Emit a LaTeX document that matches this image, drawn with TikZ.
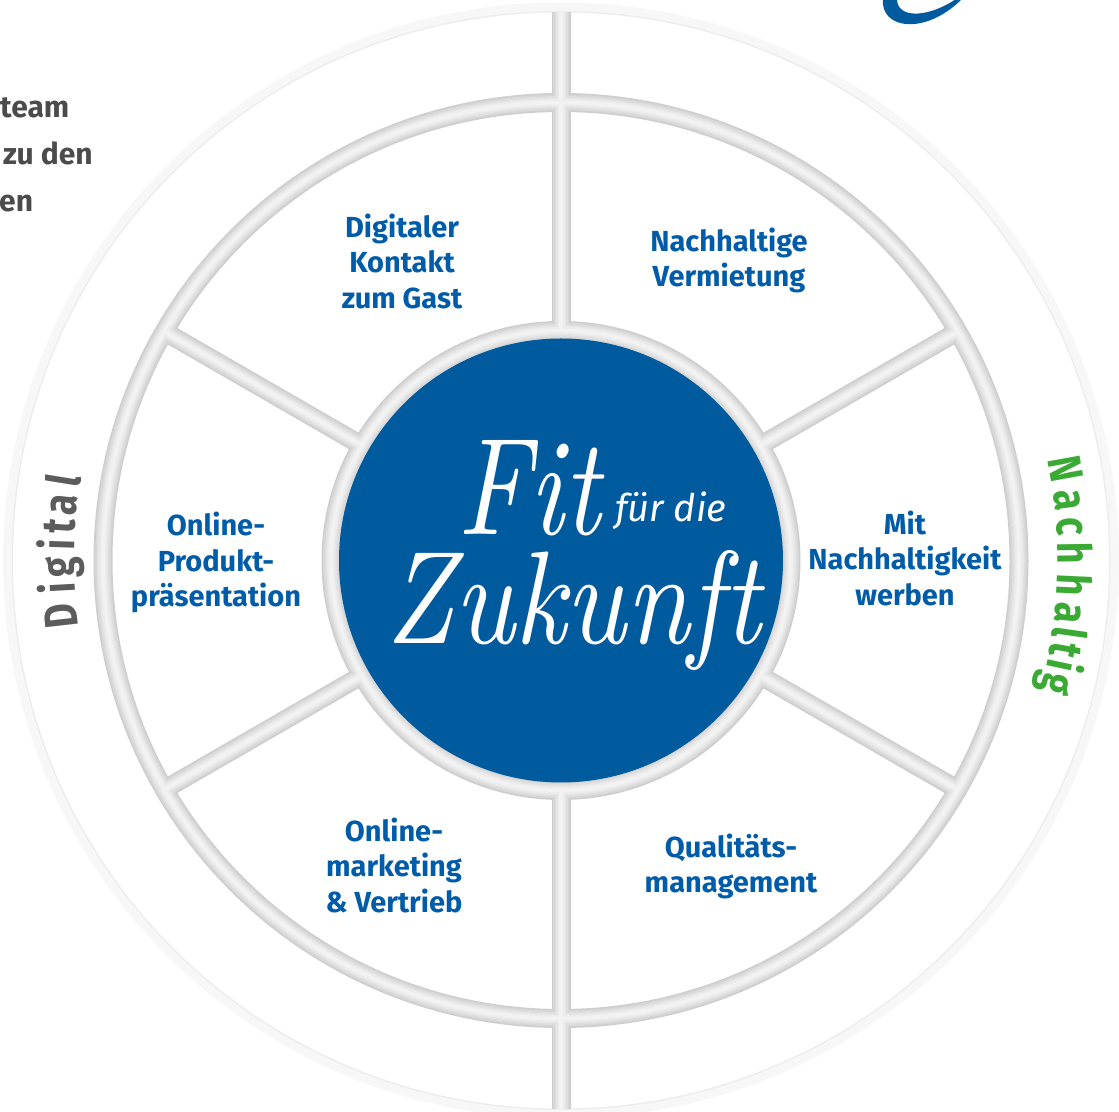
\documentclass[tikz,border=0pt]{standalone}
\usepackage{fontspec}
\usepackage{graphicx}
\newfontfamily\fira{Fira Sans}
\definecolor{fitblue}{RGB}{0,90,158}
\definecolor{lblblue}{RGB}{0,92,169}
\definecolor{nachgreen}{RGB}{58,170,53}
\definecolor{dgray}{RGB}{92,92,92}
\definecolor{txtgray}{RGB}{75,75,75}
\definecolor{bandA}{RGB}{206,206,206}
\definecolor{bandB}{RGB}{214,214,214}
\definecolor{bandC}{RGB}{222,222,222}
\definecolor{bandD}{RGB}{229,229,229}
\definecolor{bandE}{RGB}{236,236,236}
\definecolor{bandF}{RGB}{242,242,242}
\newcommand\bandpaths[1]{%
  \draw[#1] (0,0) circle[radius=458pt];
  \draw[#1] (0,0) circle[radius=230pt];
  \draw[#1] (90:230pt) -- (90:548pt);
  \draw[#1] (270:230pt) -- (270:548pt);
  \foreach \ang in {30,150,210,330}{\draw[#1] (\ang:230pt) -- (\ang:458pt);}
}
% #1 name, #2 angle, #3 radius, #4 letter, #5 colour
\newcommand\arcletter[5]{%
  \node[arclet, text=#5, rotate=#2-90] (#1) at (#2:#3pt) {\scalebox{0.8}[1]{#4}};}
\tikzset{
  lbl/.style={font=\fira\bfseries\fontsize{29}{35.5}\selectfont, text=lblblue, align=center, inner sep=0pt},
  sidetxt/.style={font=\fira\bfseries\fontsize{30}{30}\selectfont, text=txtgray, anchor=base west, inner sep=0pt},
  arclet/.style={font=\fira\bfseries\fontsize{47}{47}\selectfont, anchor=base, inner sep=0pt}
}
\begin{document}
\begin{tikzpicture}[x=1pt,y=1pt]
\useasboundingbox (0,0) rectangle (1119,1111);
\clip (0,0) rectangle (1119,1111);
\fill[white] (0,0) rectangle (1119,1111);
% cropped text at top left
\node[sidetxt] (t1) at (0,993) {team};
\node[sidetxt] (t2) at (3,946) {zu den};
\node[sidetxt] (t3) at (-1,899) {en};
% cropped logo swoosh
\fill[fitblue] (883,1112) .. controls (880,1082) and (925,1075) .. (962,1112)
  -- (956,1112) .. controls (928,1093) and (897,1092) .. (897,1112) -- cycle;
\begin{scope}[shift={(561,550.5)}]
  \draw[gray!6, line width=10pt] (0,0) circle[radius=553pt];
  \draw[gray!14, line width=2pt] (0,0) circle[radius=548.5pt];
  \fill[white] (0,0) circle[radius=548pt];
  \bandpaths{bandA,line width=19pt}
  \bandpaths{bandB,line width=16pt}
  \bandpaths{bandC,line width=13pt}
  \bandpaths{bandD,line width=10pt}
  \bandpaths{bandE,line width=7pt}
  \bandpaths{bandF,line width=3.5pt}
  \fill[fitblue] (0,0) circle[radius=222pt];
  % Digital (reading upwards, left side)
  \arcletter{d1}{186.4}{487}{D}{dgray}
  \arcletter{d2}{183.2}{487}{i}{dgray}
  \arcletter{d3}{180.8}{487}{g}{dgray}
  \arcletter{d4}{178.2}{487}{i}{dgray}
  \arcletter{d5}{176.1}{487}{t}{dgray}
  \arcletter{d6}{173.6}{487}{a}{dgray}
  \arcletter{d7}{170.8}{487}{l}{dgray}
  % Nachhaltig (reading downwards, right side)
  \arcletter{n1}{10.26}{497}{N}{nachgreen}
  \arcletter{n2}{6.76}{497}{a}{nachgreen}
  \arcletter{n3}{3.86}{497}{c}{nachgreen}
  \arcletter{n4}{0.86}{497}{h}{nachgreen}
  \arcletter{n5}{-2.71}{497}{h}{nachgreen}
  \arcletter{n6}{-5.95}{497}{a}{nachgreen}
  \arcletter{n7}{-8.16}{497}{l}{nachgreen}
  \arcletter{n8}{-10.14}{497}{t}{nachgreen}
  \arcletter{n9}{-11.9}{497}{i}{nachgreen}
  \arcletter{n10}{-14.03}{497}{g}{nachgreen}
\end{scope}
% centre title
\node[text=white, inner sep=0pt, anchor=south west] (fit) at (457,575) {\resizebox{143pt}{94pt}{\itshape Fit}};
\node[text=white, inner sep=0pt, anchor=base west, font=\fira\itshape\fontsize{38}{38}\selectfont] (fuer) at (615,589) {für die};
\node[text=white, inner sep=0pt] (zuk) at (573,500) {\resizebox*{375pt}{120pt}{\itshape Zukunft}};
% segment labels
\node[lbl] (s1) at (402,850) {Digitaler\\Kontakt\\zum Gast};
\node[lbl] (s2) at (729,850.5) {Nachhaltige\\Vermietung};
\node[lbl] (s3) at (905,553) {Mit\\Nachhaltigkeit\\werben};
\node[lbl] (s4) at (731,244.5) {Qualitäts-\\management};
\node[lbl] (s5) at (394,246) {Online-\\marketing\\\& Vertrieb};
\node[lbl] (s6) at (216,548.5) {Online-\\Produkt-\\präsentation};
\end{tikzpicture}
\end{document}
